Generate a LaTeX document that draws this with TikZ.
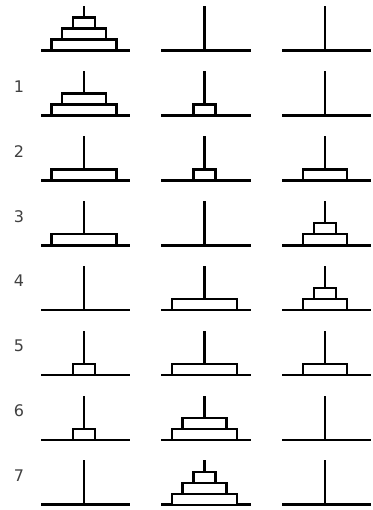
\documentclass[tikz,border=0pt]{standalone}
\usepackage{fontspec}
\setmainfont{DejaVu Sans}
\usetikzlibrary{positioning}

\begin{document}
\begin{tikzpicture}[
        x=1pt, y=-1pt,
        pole/.style={line width=2.7pt, line cap=rect},
        disk/.style={draw, fill=white, line width=2.5pt},
        movenum/.style={font=\fontsize{16}{16}\selectfont, text=black!75, inner sep=0pt},
    ]
    \useasboundingbox (0,0) rectangle (372,510);

    % row / disks as width/peg/level
    \foreach \row/\disks in {
        0/{65/1/0,44/1/1,22/1/2},
        1/{65/1/0,44/1/1,22/2/0},
        2/{65/1/0,22/2/0,44/3/0},
        3/{65/1/0,44/3/0,22/3/1},
        4/{65/2/0,44/3/0,22/3/1},
        5/{22/1/0,65/2/0,44/3/0},
        6/{22/1/0,65/2/0,44/2/1},
        7/{65/2/0,44/2/1,22/2/2}} {
        \pgfmathsetmacro{\base}{50.5+64.9*\row}
        % pegs
        \foreach \p in {1,2,3} {
            \pgfmathsetmacro{\px}{84+120.5*(\p-1)}
            \draw[pole] (\px-42,\base) -- (\px+45,\base);
            \draw[pole] (\px,\base) -- (\px,\base-43);
        }
        % disks
        \foreach \w/\p/\lv in \disks {
            \pgfmathsetmacro{\px}{84+120.5*(\p-1)}
            \draw[disk] (\px-\w/2,\base-11*\lv) rectangle (\px+\w/2,\base-11*\lv-11);
        }
        % move number
        \ifnum\row>0
            \node[movenum] (num\row) at (19,\base-29) {\row};
        \fi
    }
\end{tikzpicture}
\end{document}
